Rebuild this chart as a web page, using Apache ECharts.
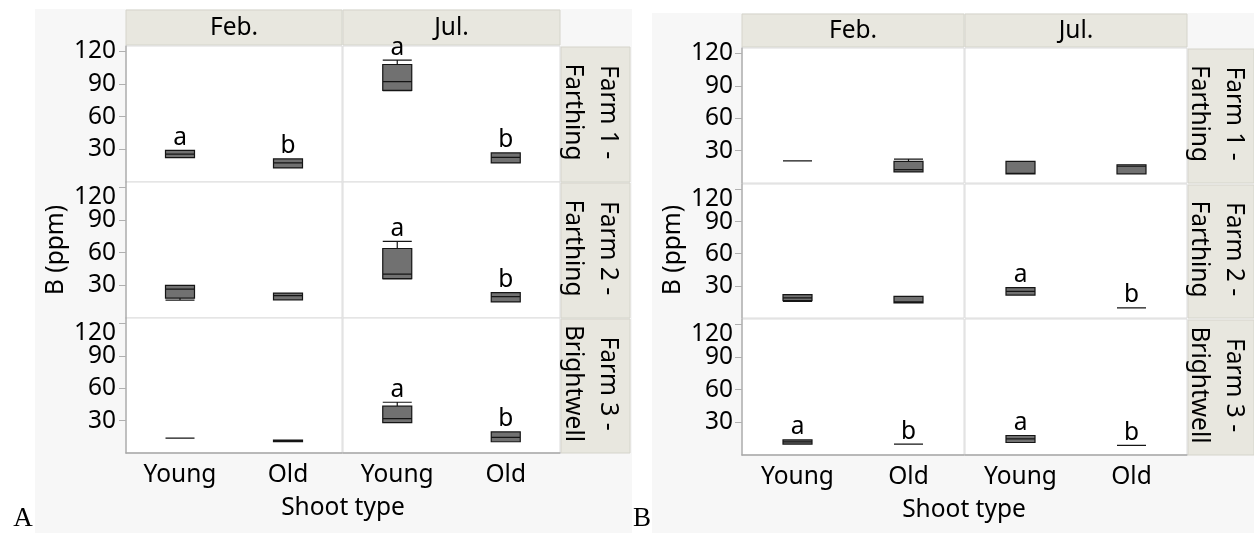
<!DOCTYPE html>
<html><head><meta charset="utf-8">
<script src="https://cdn.jsdelivr.net/npm/echarts@6/dist/echarts.min.js"></script>
<style>html,body{margin:0;padding:0;background:#fff}#c{width:1254px;height:533px}</style>
</head><body><div id="c"></div>
<script>
// ---------- data ----------
const categories = ['Young', 'Old'];
const months = ['Feb.', 'Jul.'];
const farms = ['Farm 1 -\nFarthing', 'Farm 2 -\nFarthing', 'Farm 3 -\nBrightwell'];
const yTicks = [30, 60, 90, 120];
const panelLetters = ['A', 'B'];
const yTitle = 'B (ppm)';
const xTitle = 'Shoot type';

// box values: [min, Q1, median, Q3, max] for [Young, Old]
const boxA_farm1_feb = [[22.4, 22.4, 25.7, 29.1, 29.1], [12.9, 12.9, 17.5, 21.2, 21.2]];
const boxA_farm1_jul = [[84, 84.2, 92.2, 108, 112], [17.5, 17.5, 22.7, 26.7, 26.7]];
const boxA_farm2_feb = [[16.5, 18.2, 26.6, 29.9, 29.9], [16.7, 16.7, 20.6, 22.9, 22.9]];
const boxA_farm2_jul = [[36, 36.1, 40.4, 63.9, 70.4], [14.8, 14.8, 19.7, 23.4, 23.4]];
const boxA_farm3_feb = [[13.8, 13.8, 13.8, 13.8, 13.8], [10.5, 10.5, 11.3, 12, 12]];
const boxA_farm3_jul = [[28.2, 28.2, 31.8, 43.4, 47], [10.4, 10.4, 14.4, 19.5, 19.5]];

const boxB_farm1_feb = [[20.5, 20.5, 20.5, 20.5, 20.5], [10.3, 10.3, 12.4, 20, 22.1]];
const boxB_farm1_jul = [[8.5, 8.5, 9, 20, 20], [8.5, 8.5, 15.5, 16.9, 16.9]];
const boxB_farm2_feb = [[15.5, 16.3, 18.7, 21.8, 21.8], [14.1, 14.1, 15, 20.2, 20.2]];
const boxB_farm2_jul = [[21.4, 21.4, 24.8, 28.4, 28.4], [9.5, 9.5, 9.5, 9.5, 9.5]];
const boxB_farm3_feb = [[10, 10, 12, 13.9, 13.9], [10, 10, 10, 10, 10]];
const boxB_farm3_jul = [[11.5, 11.5, 14.8, 17.9, 17.9], [8.8, 8.8, 8.8, 8.8, 8.8]];

// significance letters for [Young, Old]
const lettersA_farm1_feb = ['a', 'b'];
const lettersA_farm1_jul = ['a', 'b'];
const lettersA_farm2_feb = ['', ''];
const lettersA_farm2_jul = ['a', 'b'];
const lettersA_farm3_feb = ['', ''];
const lettersA_farm3_jul = ['a', 'b'];
const lettersB_farm1_feb = ['', ''];
const lettersB_farm1_jul = ['', ''];
const lettersB_farm2_feb = ['', ''];
const lettersB_farm2_jul = ['a', 'b'];
const lettersB_farm3_feb = ['a', 'b'];
const lettersB_farm3_jul = ['a', 'b'];

// ---------- assembly ----------
const boxes = [
  [[boxA_farm1_feb, boxA_farm1_jul], [boxA_farm2_feb, boxA_farm2_jul], [boxA_farm3_feb, boxA_farm3_jul]],
  [[boxB_farm1_feb, boxB_farm1_jul], [boxB_farm2_feb, boxB_farm2_jul], [boxB_farm3_feb, boxB_farm3_jul]]
];
const letters = [
  [[lettersA_farm1_feb, lettersA_farm1_jul], [lettersA_farm2_feb, lettersA_farm2_jul], [lettersA_farm3_feb, lettersA_farm3_jul]],
  [[lettersB_farm1_feb, lettersB_farm1_jul], [lettersB_farm2_feb, lettersB_farm2_jul], [lettersB_farm3_feb, lettersB_farm3_jul]]
];

const FONT = '"Noto Sans", "Open Sans", sans-serif';
const FS = 24.5;
const TXT = '#000';
const STRIP = '#e8e7df';
const STRIP_BORDER = '#d5d4cb';

const layout = [
  { bg: [35, 9, 597, 524], cols: [[126, 216], [343, 217]], rows: [[46, 136], [182, 136], [318, 135]],
    header: [10, 35], strip: [561, 69], yTitle: [56, 250], xTitle: [343, 508], tag: [23, 519], yMargin: 10 },
  { bg: [652, 13, 602, 520], cols: [[742, 222], [965, 222]], rows: [[48, 135], [184, 134], [319, 136]],
    header: [14, 33], strip: [1188, 66], yTitle: [673, 250], xTitle: [964, 510], tag: [642, 519], yMargin: 9 }
];

const grids = [], xAxes = [], yAxes = [], series = [], graphics = [];

layout.forEach((L, p) => {
  graphics.push({ type: 'rect', z: -10, shape: { x: L.bg[0], y: L.bg[1], width: L.bg[2], height: L.bg[3] },
    style: { fill: '#f7f7f7' } });
  L.cols.forEach((col, c) => {
    graphics.push({ type: 'rect', z: -5, shape: { x: col[0], y: L.header[0], width: col[1], height: L.header[1] },
      style: { fill: STRIP, stroke: STRIP_BORDER, lineWidth: 1 } });
    graphics.push({ type: 'text', z: 5, x: col[0] + col[1] / 2, y: L.header[0] + L.header[1] / 2 + 1,
      style: { text: months[c], fontSize: FS, fontFamily: FONT, fill: TXT, align: 'center', verticalAlign: 'middle' } });
  });
  L.rows.forEach((row, r) => {
    graphics.push({ type: 'rect', z: -5, shape: { x: L.strip[0], y: row[0] + 1, width: L.strip[1], height: row[1] - 1 },
      style: { fill: STRIP, stroke: STRIP_BORDER, lineWidth: 1 } });
    graphics.push({ type: 'text', z: 5, x: L.strip[0] + L.strip[1] / 2 - 5, y: row[0] + row[1] / 2 - 2, rotation: -Math.PI / 2,
      style: { text: farms[r], fontSize: FS, fontFamily: FONT, fill: TXT, align: 'center', verticalAlign: 'middle', lineHeight: 35 } });
  });
  graphics.push({ type: 'text', z: 5, x: L.yTitle[0], y: L.yTitle[1], rotation: Math.PI / 2,
    style: { text: yTitle, fontSize: FS, fontFamily: FONT, fill: TXT, align: 'center', verticalAlign: 'middle' } });
  graphics.push({ type: 'text', z: 5, x: L.xTitle[0], y: L.xTitle[1],
    style: { text: xTitle, fontSize: FS, fontFamily: FONT, fill: TXT, align: 'center', verticalAlign: 'middle' } });
  graphics.push({ type: 'text', z: 5, x: L.tag[0], y: L.tag[1],
    style: { text: panelLetters[p], fontSize: 27, fontFamily: '"Liberation Serif", "DejaVu Serif", serif', fill: '#000', align: 'center', verticalAlign: 'middle' } });

  L.rows.forEach((row, r) => {
    L.cols.forEach((col, c) => {
      const gi = grids.length;
      const bottomRow = r === L.rows.length - 1;
      const leftCol = c === 0;
      grids.push({ left: col[0], top: row[0], width: col[1], height: row[1], show: true,
        backgroundColor: '#fff', borderColor: '#dcdcdc', borderWidth: 1, containLabel: false });
      xAxes.push({ type: 'category', gridIndex: gi, data: categories, boundaryGap: true,
        axisLine: { show: bottomRow, lineStyle: { color: '#a8a8a8', width: 1.5 } },
        axisTick: { show: false },
        axisLabel: { show: bottomRow, fontSize: FS, fontFamily: FONT, color: TXT, margin: 10 },
        splitLine: { show: false } });
      yAxes.push({ type: 'value', gridIndex: gi, min: 0, max: 125, interval: 30,
        axisLine: { show: leftCol, lineStyle: { color: '#b0b0b0', width: 1.5 } },
        axisTick: { show: leftCol, length: 7, lineStyle: { color: '#b0b0b0' } },
        axisLabel: { show: leftCol, fontSize: FS, fontFamily: FONT, color: TXT, margin: L.yMargin, lineHeight: 20,
          showMinLabel: false, showMaxLabel: false,
          formatter: v => (yTicks.indexOf(v) < 0 ? '' : (v === 120 && r > 0 ? '\n120' : String(v))) },
        splitLine: { show: false } });
      const bx = boxes[p][r][c];
      series.push({ type: 'boxplot', xAxisIndex: gi, yAxisIndex: gi, data: bx, boxWidth: [29, 29], silent: true,
        itemStyle: { color: '#717171', borderColor: '#151515', borderWidth: 1.2 } });
      const lt = letters[p][r][c];
      const ld = [];
      lt.forEach((s, k) => { if (s) ld.push({ value: [k, bx[k][4]], name: s }); });
      if (ld.length) {
        series.push({ type: 'scatter', xAxisIndex: gi, yAxisIndex: gi, data: ld, symbolSize: 0, silent: true,
          itemStyle: { opacity: 1 },
          label: { show: true, position: 'top', distance: 0, formatter: '{b}', fontSize: FS, fontFamily: FONT,
            color: TXT, opacity: 1, textBorderWidth: 0 } });
      }
    });
  });
});

const chart = echarts.init(document.getElementById('c'), null, { renderer: 'canvas' });
chart.setOption({
  animation: false,
  backgroundColor: '#fff',
  grid: grids, xAxis: xAxes, yAxis: yAxes, series: series,
  graphic: { elements: graphics }
});
</script></body></html>
